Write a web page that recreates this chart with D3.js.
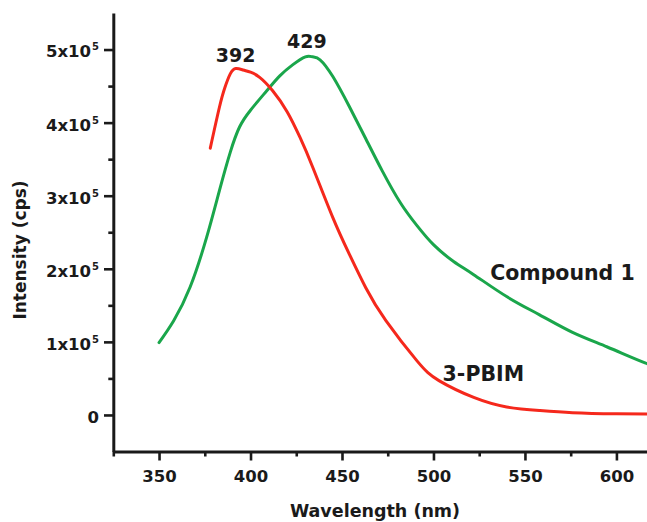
<!DOCTYPE html>
<html>
<head>
<meta charset="utf-8">
<script src="https://cdn.jsdelivr.net/npm/d3@7"></script>
<style>
  html, body { margin: 0; padding: 0; background: #ffffff; }
  svg { display: block; }
  text { font-family: "DejaVu Sans", sans-serif; font-weight: bold; fill: #1a1a1a; }
</style>
</head>
<body>
<svg id="chart" width="647" height="522"></svg>
<script>
// ---- data ----
const pbimWavelength = [378, 383, 386, 389, 392, 396, 400, 405, 412, 420, 427, 434, 445, 454, 463, 474, 491, 503, 522, 540, 558, 576, 600, 625];
const pbimIntensity  = [365000, 421000, 448000, 467000, 474000, 472000, 469000, 462000, 444000, 415000, 380000, 339000, 270000, 220000, 174000, 129000, 74000, 47000, 24000, 11000, 6000, 3000, 1500, 1000];

const compWavelength = [350, 358, 367, 376, 383, 389, 394, 400, 409, 416, 423, 430, 434, 438, 445, 454, 463, 472, 482, 491, 500, 511, 522, 540, 558, 576, 595, 616, 630];
const compIntensity  = [99000, 129000, 175000, 243000, 307000, 360000, 394000, 417000, 444000, 464000, 479000, 490000, 490000, 486000, 463000, 422000, 378000, 334000, 290000, 259000, 233000, 210000, 192000, 162000, 137000, 113000, 93000, 71000, 60000];

const xTicksMajor = [350, 400, 450, 500, 550, 600];
const xTicksMinor = [325, 375, 425, 475, 525, 575, 625];
const yTicksMajor = [0, 100000, 200000, 300000, 400000, 500000];
const yTicksMinor = [50000, 150000, 250000, 350000, 450000];

const peakLabels = [
  { text: "392", x: 394, y: 474000 },
  { text: "429", x: 433, y: 492000 }
];
const seriesLabels = [
  { text: "Compound 1", x: 531, y: 184000 },
  { text: "3-PBIM", x: 505, y: 47000 }
];

// ---- layout ----
const svg = d3.select("#chart");
const x = d3.scaleLinear().domain([325, 650]).range([113.3, 707.9]);
const y = d3.scaleLinear().domain([-50000, 550000]).range([451.5, 13]);

const ink = "#1a1a1a";

svg.append("defs").append("clipPath").attr("id", "plotclip")
  .append("rect").attr("x", 113).attr("y", 0).attr("width", 600).attr("height", 451);

// x axis
const xAxisMajor = d3.axisBottom(x).tickValues(xTicksMajor).tickSize(9).tickSizeOuter(0).tickPadding(10);
const gx = svg.append("g").attr("transform", `translate(0,${y(-50000)})`).call(xAxisMajor);
gx.select(".domain").attr("stroke", ink).attr("stroke-width", 3);
gx.selectAll(".tick line").attr("stroke", ink).attr("stroke-width", 2.6);
gx.selectAll(".tick text").attr("font-size", 16.5).attr("fill", ink)
  .attr("font-family", "DejaVu Sans").attr("font-weight", "bold");

const xAxisMinor = d3.axisBottom(x).tickValues(xTicksMinor).tickSize(5).tickSizeOuter(0).tickFormat("");
const gxm = svg.append("g").attr("transform", `translate(0,${y(-50000)})`).call(xAxisMinor);
gxm.select(".domain").remove();
gxm.selectAll(".tick line").attr("stroke", ink).attr("stroke-width", 2.6);

// y axis
const yAxisMajor = d3.axisLeft(y).tickValues(yTicksMajor).tickSize(9.3).tickSizeOuter(0).tickPadding(5);
const gy = svg.append("g").attr("transform", `translate(${x(325)},0)`).call(yAxisMajor);
gy.select(".domain").attr("stroke", ink).attr("stroke-width", 3);
gy.selectAll(".tick line").attr("stroke", ink).attr("stroke-width", 2.6);
gy.selectAll(".tick text")
  .attr("font-size", 16.5).attr("fill", ink)
  .attr("font-family", "DejaVu Sans").attr("font-weight", "bold")
  .attr("dy", "0.45em")
  .text(null)
  .each(function(d) {
    const t = d3.select(this);
    if (d === 0) {
      t.append("tspan").text("0");
    } else {
      t.append("tspan").text(`${d / 100000}x10`);
      t.append("tspan").attr("font-size", 10).attr("dy", -7).attr("dx", 1).text("5");
    }
  });

const yAxisMinor = d3.axisLeft(y).tickValues(yTicksMinor).tickSize(5).tickSizeOuter(0).tickFormat("");
const gym = svg.append("g").attr("transform", `translate(${x(325)},0)`).call(yAxisMinor);
gym.select(".domain").remove();
gym.selectAll(".tick line").attr("stroke", ink).attr("stroke-width", 2.6);

// lines
const line = d3.line().x(d => x(d[0])).y(d => y(d[1])).curve(d3.curveNatural);
const plot = svg.append("g").attr("clip-path", "url(#plotclip)");
plot.append("path")
  .datum(compWavelength.map((w, i) => [w, compIntensity[i]]))
  .attr("d", line).attr("fill", "none").attr("stroke", "#1aa64b")
  .attr("stroke-width", 3).attr("stroke-linejoin", "round").attr("stroke-linecap", "round");
plot.append("path")
  .datum(pbimWavelength.map((w, i) => [w, pbimIntensity[i]]))
  .attr("d", line).attr("fill", "none").attr("stroke", "#f5281c")
  .attr("stroke-width", 3).attr("stroke-linejoin", "round").attr("stroke-linecap", "round");

// peak labels
svg.selectAll("text.peak").data(peakLabels).enter().append("text")
  .attr("class", "peak")
  .attr("x", d => x(d.x) - 4).attr("y", d => y(d.y) - 7)
  .attr("text-anchor", "middle").attr("font-size", 19).text(d => d.text);

// series labels
svg.selectAll("text.series").data(seriesLabels).enter().append("text")
  .attr("class", "series")
  .attr("x", d => x(d.x)).attr("y", d => y(d.y))
  .attr("text-anchor", "start").attr("font-size", 20.5).text(d => d.text);

// axis titles
svg.append("text").attr("x", 375).attr("y", 517).attr("text-anchor", "middle")
  .attr("font-size", 17.5).text("Wavelength (nm)");
svg.append("text").attr("transform", "translate(26,250) rotate(-90)")
  .attr("text-anchor", "middle").attr("font-size", 17).text("Intensity (cps)");
</script>
</body>
</html>
